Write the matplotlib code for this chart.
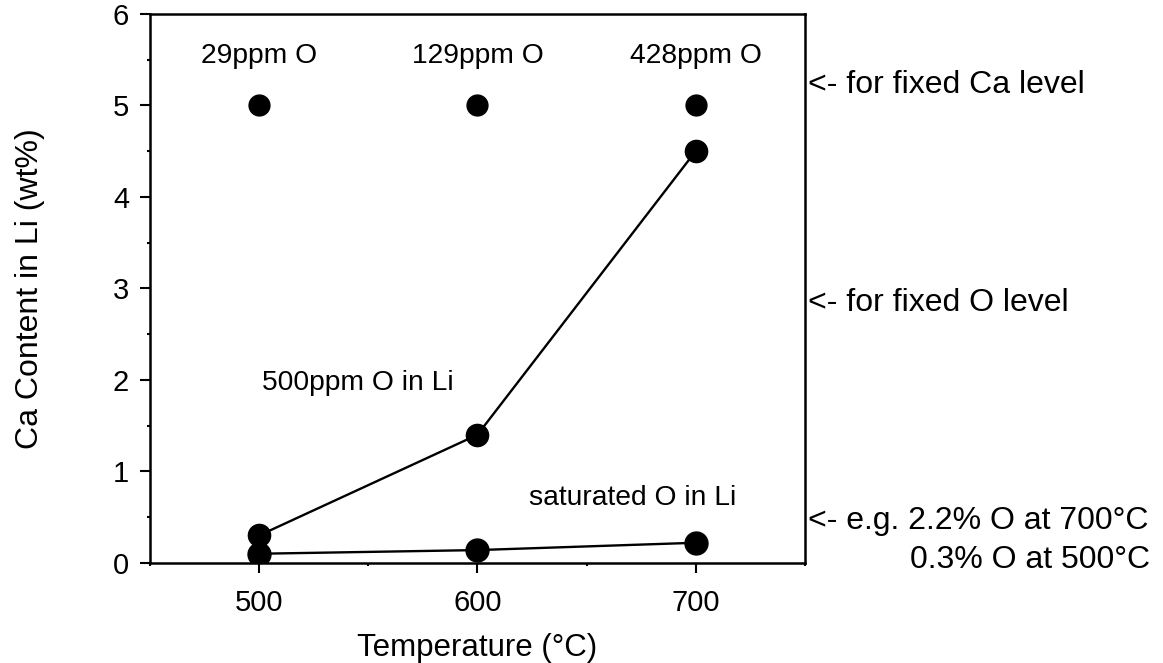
import matplotlib
matplotlib.use("Agg")
import matplotlib.pyplot as plt
from matplotlib.ticker import MultipleLocator

plt.rcParams['font.family'] = ['Liberation Sans', 'DejaVu Sans']

# Temperatures (°C)
temps = [500, 600, 700]
# Ca content (wt%) for a fixed Ca level, labelled by O content
fixed_ca = [5.0, 5.0, 5.0]
fixed_ca_labels = ["29ppm O", "129ppm O", "428ppm O"]
# Ca content (wt%) for 500 ppm O in Li
o_500ppm = [0.3, 1.4, 4.5]
# Ca content (wt%) for O-saturated Li
o_saturated = [0.1, 0.14, 0.22]

FS_NOTE = 20.3   # labels inside the axes
FS_SIDE = 23     # notes to the right of the axes
FS_TICK = 21
FS_XLAB = 22.5
FS_YLAB = 23

fig = plt.figure(figsize=(11.63, 6.63), dpi=100)
ax = fig.add_axes([0.129, 0.151, 0.563, 0.828])

ax.plot(temps, fixed_ca, 'o', color='black', markersize=15, linestyle='none')
ax.plot(temps, o_500ppm, 'o-', color='black', markersize=16, linewidth=1.7)
ax.plot(temps, o_saturated, 'o-', color='black', markersize=16.5, linewidth=1.7)

for t, lab in zip(temps, fixed_ca_labels):
    ax.text(t, 5.54, lab, ha='center', va='center', fontsize=FS_NOTE)

ax.text(545, 1.97, "500ppm O in Li", ha='center', va='center', fontsize=FS_NOTE)
ax.text(671, 0.71, "saturated O in Li", ha='center', va='center', fontsize=FS_NOTE)

side = dict(fontsize=FS_SIDE, va='center', clip_on=False)
ax.text(751.5, 5.22, "<- for fixed Ca level", ha='left', **side)
ax.text(751.5, 2.84, "<- for fixed O level", ha='left', **side)
ax.text(751.5, 0.46, "<- e.g. 2.2% O at 700°C", ha='left', **side)
ax.text(908, 0.03, "0.3% O at 500°C", ha='right', **side)

ax.set_xlim(450, 750)
ax.set_ylim(0, 6)
ax.xaxis.set_major_locator(MultipleLocator(100))
ax.xaxis.set_minor_locator(MultipleLocator(50))
ax.yaxis.set_major_locator(MultipleLocator(1))
ax.yaxis.set_minor_locator(MultipleLocator(0.5))

ax.tick_params(which='major', direction='out', length=7, width=1.5,
               labelsize=FS_TICK, top=False, right=False)
ax.tick_params(axis='x', which='major', pad=12)
ax.tick_params(axis='y', which='major', pad=8)
ax.tick_params(which='minor', direction='out', length=2, width=1.5,
               top=False, right=False)

for s in ax.spines.values():
    s.set_linewidth(1.8)

ax.set_xlabel("Temperature (°C)", fontsize=FS_XLAB, va='center')
ax.xaxis.set_label_coords(0.5, -0.155)
ax.set_ylabel("Ca Content in Li (wt%)", fontsize=FS_YLAB, va='center')
ax.yaxis.set_label_coords(-0.183, 0.5)

fig.savefig("out.png", dpi=100)
